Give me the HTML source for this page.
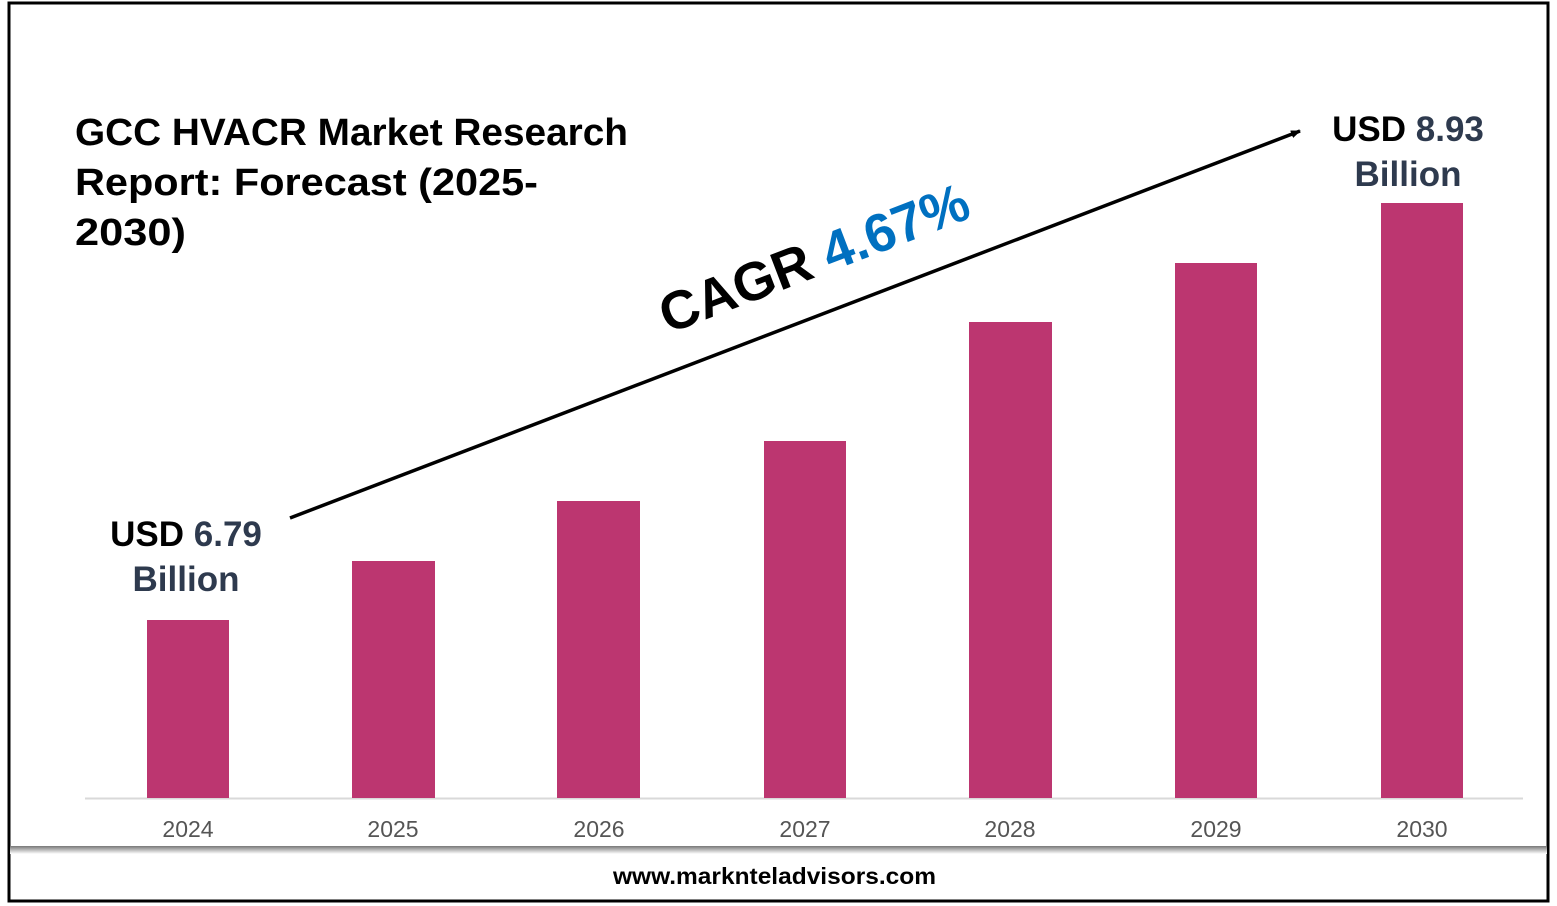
<!DOCTYPE html>
<html><head><meta charset="utf-8"><style>
html,body{margin:0;padding:0;background:#fff;}
svg{display:block}
</style></head><body>
<svg width="1557" height="906" viewBox="0 0 1557 906" xmlns="http://www.w3.org/2000/svg" font-family="Liberation Sans, DejaVu Sans, sans-serif">
<defs>
<linearGradient id="sh" x1="0" y1="0" x2="0" y2="1">
<stop offset="0" stop-color="#777"/><stop offset="1" stop-color="#fff"/>
</linearGradient>
<marker id="ah" markerWidth="10" markerHeight="8" refX="9" refY="4" orient="auto" markerUnits="userSpaceOnUse">
<path d="M0,0 L10,4 L0,8 Z" fill="#000"/>
</marker>
</defs>
<rect x="0" y="0" width="1557" height="906" fill="#fff"/>
<rect x="9" y="3" width="1539" height="898" fill="none" stroke="#000" stroke-width="3"/>
<rect x="10" y="846" width="1537" height="8" fill="url(#sh)"/>
<g font-weight="bold" font-size="38" fill="#000">
<text x="75" y="145" textLength="553" lengthAdjust="spacingAndGlyphs">GCC HVACR Market Research</text>
<text x="75" y="195" textLength="463" lengthAdjust="spacingAndGlyphs">Report: Forecast (2025-</text>
<text x="75" y="245" textLength="111" lengthAdjust="spacingAndGlyphs">2030)</text>
</g>
<line x1="85" y1="798.5" x2="1523" y2="798.5" stroke="#d9d9d9" stroke-width="2"/>
<g fill="#bc3670">
<rect x="147" y="620" width="82" height="178"/>
<rect x="352" y="561" width="83" height="237"/>
<rect x="557" y="501" width="83" height="297"/>
<rect x="764" y="441" width="82" height="357"/>
<rect x="969" y="322" width="83" height="476"/>
<rect x="1175" y="263" width="82" height="535"/>
<rect x="1381" y="203" width="82" height="595"/>
</g>
<g font-size="23" fill="#555" text-anchor="middle">
<text x="188" y="837">2024</text>
<text x="393" y="837">2025</text>
<text x="599" y="837">2026</text>
<text x="805" y="837">2027</text>
<text x="1010" y="837">2028</text>
<text x="1216" y="837">2029</text>
<text x="1422" y="837">2030</text>
</g>
<line x1="290" y1="518" x2="1300" y2="131" stroke="#000" stroke-width="3.5" marker-end="url(#ah)"/>
<text x="668" y="334" font-size="54" font-weight="bold" transform="rotate(-21 668 334)"><tspan fill="#000">CAGR </tspan><tspan fill="#0070c0">4.67%</tspan></text>
<g font-size="35" font-weight="bold" text-anchor="middle">
<text x="186" y="546"><tspan fill="#000">USD </tspan><tspan fill="#2e3a4e">6.79</tspan></text>
<text x="186" y="591" fill="#2e3a4e">Billion</text>
<text x="1408" y="141"><tspan fill="#000">USD </tspan><tspan fill="#2e3a4e">8.93</tspan></text>
<text x="1408" y="186" fill="#2e3a4e">Billion</text>
</g>
<text x="613" y="884" font-size="23" font-weight="bold" fill="#000" textLength="323" lengthAdjust="spacingAndGlyphs">www.marknteladvisors.com</text>
</svg>
</body></html>
